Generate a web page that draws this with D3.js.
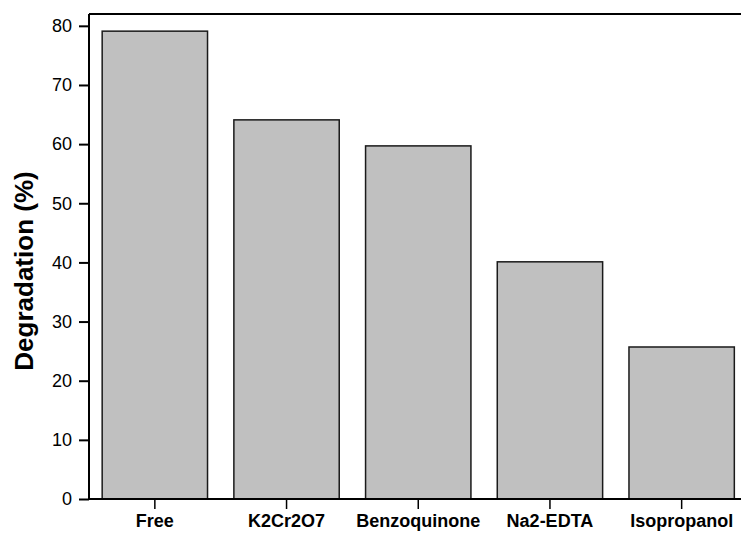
<!DOCTYPE html>
<html>
<head>
<meta charset="utf-8">
<script src="https://cdn.jsdelivr.net/npm/d3@7"></script>
<style>
  html, body { margin: 0; padding: 0; background: #fff; }
  svg { display: block; font-family: "Liberation Sans", Arial, sans-serif; }
</style>
</head>
<body>
<svg id="chart" width="741" height="535"></svg>
<script>
// data
const categories = ['Free', 'K2Cr2O7', 'Benzoquinone', 'Na2-EDTA', 'Isopropanol'];
const degradation = [79.1, 64.1, 59.7, 40.1, 25.7];
const yTicks = [0, 10, 20, 30, 40, 50, 60, 70, 80];

const svg = d3.select('#chart');
const margin = { left: 89, top: 14, bottom: 499 };
const rightEdge = 747.5; // frame runs past the right edge of the picture

const x = d3.scaleBand()
  .domain(categories)
  .range([margin.left, rightEdge])
  .paddingInner(0.2)
  .paddingOuter(0.1);

const y = d3.scaleLinear()
  .domain([0, 82])
  .range([margin.bottom, margin.top]);

// bars
svg.append('g')
  .selectAll('rect')
  .data(categories)
  .join('rect')
  .attr('x', d => x(d))
  .attr('y', (d, i) => y(degradation[i]))
  .attr('width', x.bandwidth())
  .attr('height', (d, i) => y(0) - y(degradation[i]))
  .attr('fill', '#c0c0c0')
  .attr('stroke', '#1a1a1a')
  .attr('stroke-width', 1.5);

// top frame line
svg.append('line')
  .attr('x1', margin.left).attr('x2', rightEdge)
  .attr('y1', margin.top).attr('y2', margin.top)
  .attr('stroke', '#000').attr('stroke-width', 2);

// y axis
const yAxis = svg.append('g')
  .attr('transform', `translate(${margin.left},0)`)
  .call(d3.axisLeft(y).tickValues(yTicks).tickSize(10).tickPadding(7));
yAxis.select('.domain')
  .attr('d', `M0,${margin.bottom}V${margin.top}`)
  .attr('stroke-width', 2);
yAxis.selectAll('.tick line').attr('stroke-width', 2);
yAxis.selectAll('.tick text')
  .attr('font-size', 18)
  .attr('font-family', '"Liberation Sans", Arial, sans-serif')
  .attr('fill', '#000');

// x axis
const xAxis = svg.append('g')
  .attr('transform', `translate(0,${margin.bottom})`)
  .call(d3.axisBottom(x).tickSize(10).tickPadding(6));
xAxis.select('.domain')
  .attr('d', `M${margin.left},0H${rightEdge}`)
  .attr('stroke-width', 2);
xAxis.selectAll('.tick line').attr('stroke-width', 1.5);
xAxis.selectAll('.tick text')
  .attr('y', 28)
  .attr('dy', 0)
  .attr('font-size', 18)
  .attr('font-weight', 'bold')
  .attr('font-family', '"Liberation Sans", Arial, sans-serif')
  .attr('fill', '#000');

// y axis title
svg.append('text')
  .attr('transform', 'translate(33,271) rotate(-90)')
  .attr('text-anchor', 'middle')
  .attr('font-size', 26)
  .attr('font-weight', 'bold')
  .attr('fill', '#000')
  .text('Degradation (%)');
</script>
</body>
</html>
